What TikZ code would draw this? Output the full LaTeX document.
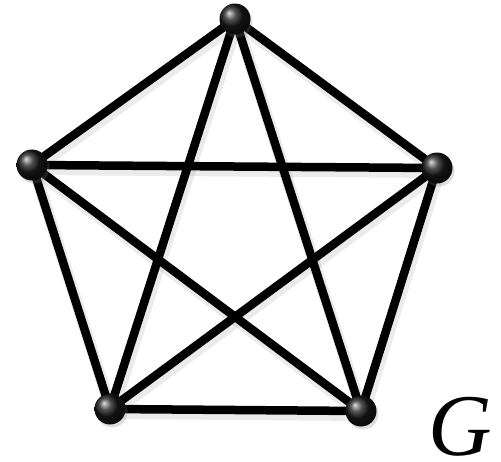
\documentclass[tikz,border=0pt]{standalone}
\usepackage{fontspec}
\setmainfont{Liberation Serif}
\usetikzlibrary{shadows}
\tikzset{
  vertex/.style={circle, minimum size=31pt, inner sep=0pt,
    ball color=black!90, shading=ball,
    drop shadow={shadow xshift=2pt, shadow yshift=-3pt, opacity=0.25}},
  edge/.style={line width=8.5pt, black},
  edgeshadow/.style={line width=12pt, black, opacity=0.08}
}
\begin{document}
\begin{tikzpicture}[x=1pt,y=-1pt]
        \useasboundingbox (0,0) rectangle (501,461);
        % 顶点位置
        \coordinate (pt) at (235,19);
        \coordinate (pl) at (32,165);
        \coordinate (pr) at (437,168);
        \coordinate (pbl) at (110,409);
        \coordinate (pbr) at (361,411);
        % 阴影
        \foreach \a/\b in {pt/pl, pt/pr, pt/pbl, pt/pbr, pl/pr, pl/pbl, pl/pbr, pr/pbl, pr/pbr, pbl/pbr}
          \draw[edgeshadow] ([shift={(2,4)}]\a) -- ([shift={(2,4)}]\b);
        % 边
        \foreach \a/\b in {pt/pl, pt/pr, pt/pbl, pt/pbr, pl/pr, pl/pbl, pl/pbr, pr/pbl, pr/pbr, pbl/pbr}
          \draw[edge] (\a) -- (\b);
        % 顶点
        \node[vertex] (t) at (pt) {};
        \node[vertex] (l) at (pl) {};
        \node[vertex] (r) at (pr) {};
        \node[vertex] (bl) at (pbl) {};
        \node[vertex] (br) at (pbr) {};
        % 图名
        \node[inner sep=0pt, text height=62pt, text depth=0pt, anchor=base] (g) at (460,455)
          {\fontsize{88}{88}\selectfont\itshape G};
\end{tikzpicture}
\end{document}
